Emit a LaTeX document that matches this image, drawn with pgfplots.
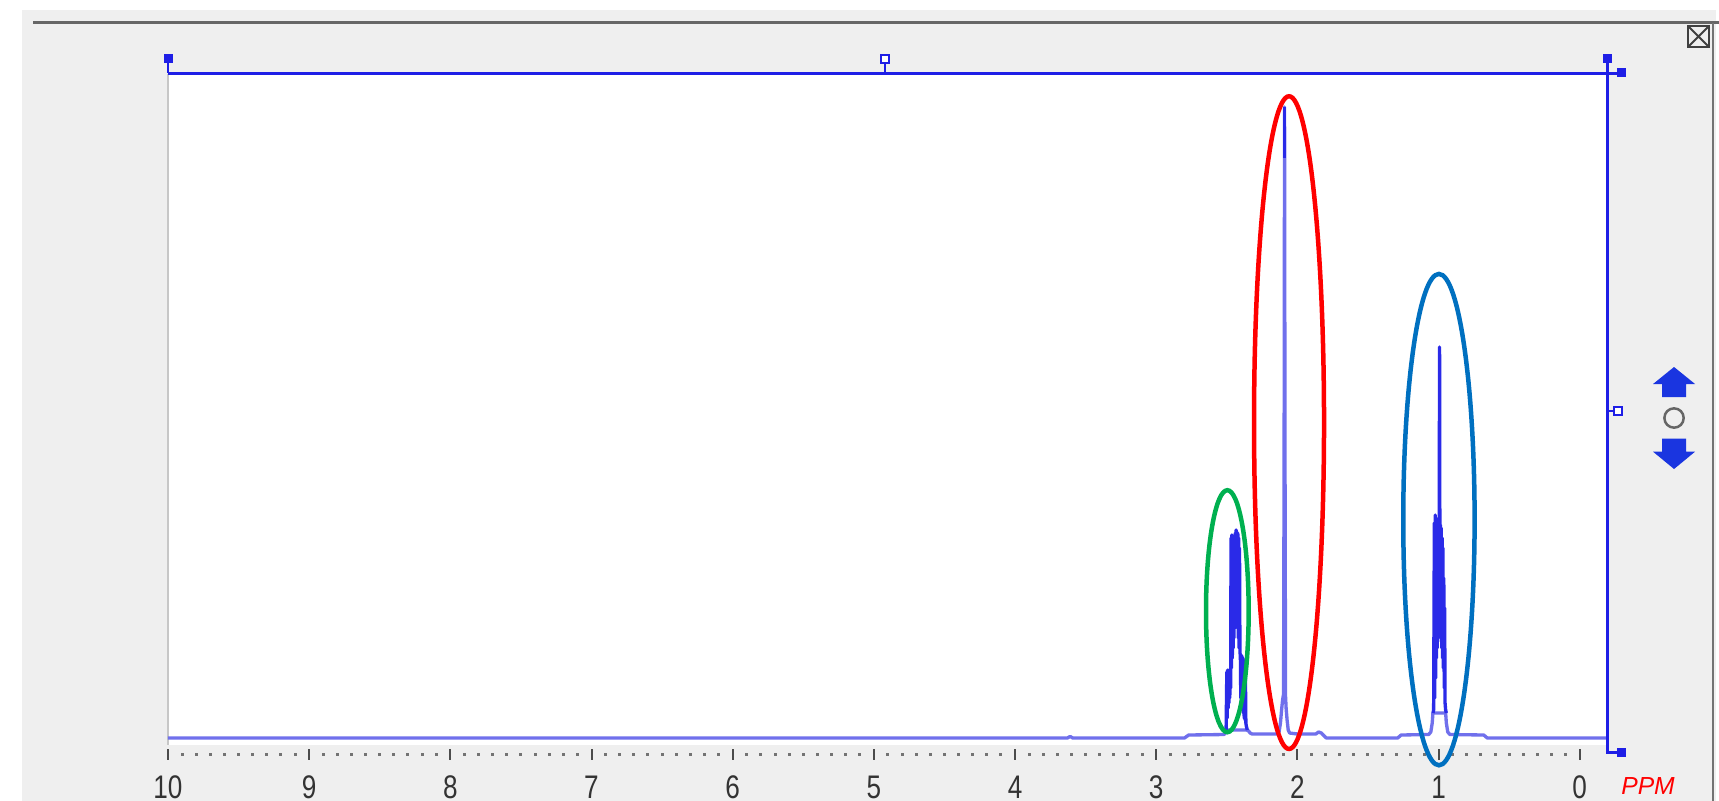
\documentclass[border=0pt]{standalone}
\usepackage{fontspec}
\setmainfont{Liberation Sans}
\usepackage{pgfplots}
\pgfplotsset{compat=1.18}
\definecolor{bg}{HTML}{EFEFEF}
\definecolor{frameblue}{HTML}{1E1EE6}
\definecolor{specline}{HTML}{7070EC}
\definecolor{specdark}{HTML}{2A2AE8}
\definecolor{ellgreen}{HTML}{00B050}
\definecolor{ellred}{HTML}{FF0000}
\definecolor{ellblue}{HTML}{0070C0}
\definecolor{arrowblue}{HTML}{1A35E0}
\begin{document}
\begin{tikzpicture}
\begin{scope}[x=0.3pt,y=-0.3pt]
\fill[bg] (0,0) rectangle (1719,801);
\fill[white] (0,0) rectangle (1719,10);
\fill[white] (0,0) rectangle (22,801);
\fill[white] (1716,0) rectangle (1719,801);
\draw[black!60, line width=0.9pt] (33,23) -- (1719,23);
\draw[black!55, line width=0.75pt] (1713,23) -- (1713,801);
\draw[black!75, line width=0.6pt] (1688,26) rectangle (1709,47);
\draw[black!75, line width=0.6pt] (1688,26) -- (1709,47) (1688,47) -- (1709,26);
\fill[white] (168,74) rectangle (1607,745);
\draw[black!22, line width=0.5pt] (168,74) -- (168,745);
\end{scope}

\begin{axis}[
  at={(50.4pt,-22.05pt)}, anchor=north west,
  scale only axis, width=431.7pt, height=204.15pt,
  x dir=reverse, xmin=-0.193, xmax=10, ymin=-16, ymax=664.5,
  hide y axis,
  axis x line*=bottom,
  x axis line style={draw=none},
  xtick={0,1,...,10},
  minor x tick num=9,
  tick align=center,
  major tick length=3.3pt,
  minor tick length=0.9pt,
  major tick style={line width=0.6pt, black!70},
  minor tick style={line width=0.9pt, black!55},
  xticklabel={\scalebox{0.8}[1]{\pgfmathprintnumber[assume math mode=true]{\tick}}},
  xticklabel style={font=\fontsize{9.8}{10}\selectfont, text=black!80, anchor=base, yshift=-11.8pt},
  clip=true,
]
\addplot[specline, line width=1.0pt, line join=round] coordinates {
(10,0) (3.63,0) (3.61,1.5) (3.59,0) (2.80,0) (2.77,3) (2.52,3.5) (2.51,5) (2.50,8)
(2.36,8) (2.345,7) (2.335,5) (2.32,4) (2.15,4) (2.13,6) (2.12,15) (2.112,28)
(2.105,38) (2.098,44) (2.094,300) (2.091,631) (2.088,300) (2.084,42) (2.08,30)
(2.073,18) (2.065,8) (2.055,5) (2.0,4) (1.87,4) (1.85,6) (1.83,5) (1.81,2)
(1.795,0) (1.29,0) (1.265,3) (1.07,3.5) (1.055,6) (1.045,15) (1.04,25)
(0.95,25) (0.945,15) (0.935,6) (0.92,3.5) (0.68,3) (0.655,0) (-0.193,0)
};
\addplot[specdark, line width=0.9pt] coordinates {(2.091,580) (2.091,631)};
\addplot[specdark, line width=1.0pt, line join=round] coordinates {
(2.510,5) (2.505,8) (2.500,66) (2.497,20) (2.494,68) (2.491,30) (2.488,66)
(2.485,35) (2.482,68) (2.479,40) (2.476,66) (2.473,50) (2.470,200) (2.467,70)
(2.464,203) (2.461,80) (2.458,200) (2.455,90) (2.452,200) (2.449,100) (2.446,198)
(2.443,110) (2.440,205) (2.437,120) (2.434,208) (2.431,115) (2.428,206) (2.425,110)
(2.422,205) (2.419,100) (2.416,200) (2.413,90) (2.410,190) (2.407,85) (2.404,83)
(2.401,40) (2.398,83) (2.395,35) (2.392,82) (2.389,30) (2.386,80) (2.383,25)
(2.380,78) (2.377,20) (2.374,75) (2.371,18) (2.368,60) (2.365,15) (2.362,12)
(2.355,8)
};
\addplot[specdark, line width=1.0pt, line join=round] coordinates {
(1.040,25) (1.035,28) (1.030,215) (1.027,40) (1.024,223) (1.021,60) (1.018,220)
(1.015,80) (1.012,218) (1.009,90) (1.006,215) (1.003,100) (1.000,210) (0.997,120)
(0.993,391) (0.990,130) (0.987,213) (0.984,100) (0.981,210) (0.978,90) (0.975,200)
(0.972,80) (0.969,190) (0.966,70) (0.963,160) (0.960,50) (0.957,130) (0.954,35)
(0.950,28) (0.945,25)
};
\end{axis}

\begin{scope}[x=0.3pt,y=-0.3pt]
\node[text=red, font=\fontsize{7.4}{8}\selectfont\itshape] at (1648,786) {PPM};
\draw[frameblue, line width=0.9pt] (168,73.5) -- (1621,73.5);
\draw[frameblue, line width=0.9pt] (1607,59) -- (1607,752) -- (1621,752);
\draw[frameblue, line width=0.5pt] (168,59) -- (168,73.5);
\draw[frameblue, line width=0.5pt] (885,63) -- (885,73.5);
\draw[frameblue, line width=0.5pt] (1607,411) -- (1614,411);
\fill[frameblue] (163.5,54.5) rectangle (172.5,63.5);
\draw[frameblue, line width=0.5pt, fill=white] (881,55) rectangle (889,63);
\fill[frameblue] (1602.5,54.5) rectangle (1611.5,63.5);
\fill[frameblue] (1616.5,68.5) rectangle (1625.5,77.5);
\draw[frameblue, line width=0.5pt, fill=white] (1614,407) rectangle (1622,415);
\fill[frameblue] (1616.5,747.5) rectangle (1625.5,756.5);
\fill[arrowblue] (1674,367) -- (1695,384) -- (1686,384) -- (1686,397) -- (1662,397) -- (1662,384) -- (1653,384) -- cycle;
\fill[arrowblue] (1662,438.5) -- (1686,438.5) -- (1686,451.7) -- (1695,451.7) -- (1674,469) -- (1653,451.7) -- (1662,451.7) -- cycle;
\draw[black!60, line width=0.75pt] (1674,418) circle [radius=2.9pt];
\draw[ellgreen, line width=1.35pt] (1227.3,611.2) ellipse [x radius=6.4pt, y radius=36.3pt];
\draw[ellred, line width=1.35pt] (1289,422.6) ellipse [x radius=10.5pt, y radius=97.9pt];
\draw[ellblue, line width=1.35pt] (1438.9,519.6) ellipse [x radius=10.7pt, y radius=73.7pt];
\end{scope}
\pgfresetboundingbox
\path[use as bounding box] (0,0) rectangle (515.7pt,-240.3pt);
\end{tikzpicture}
\end{document}
